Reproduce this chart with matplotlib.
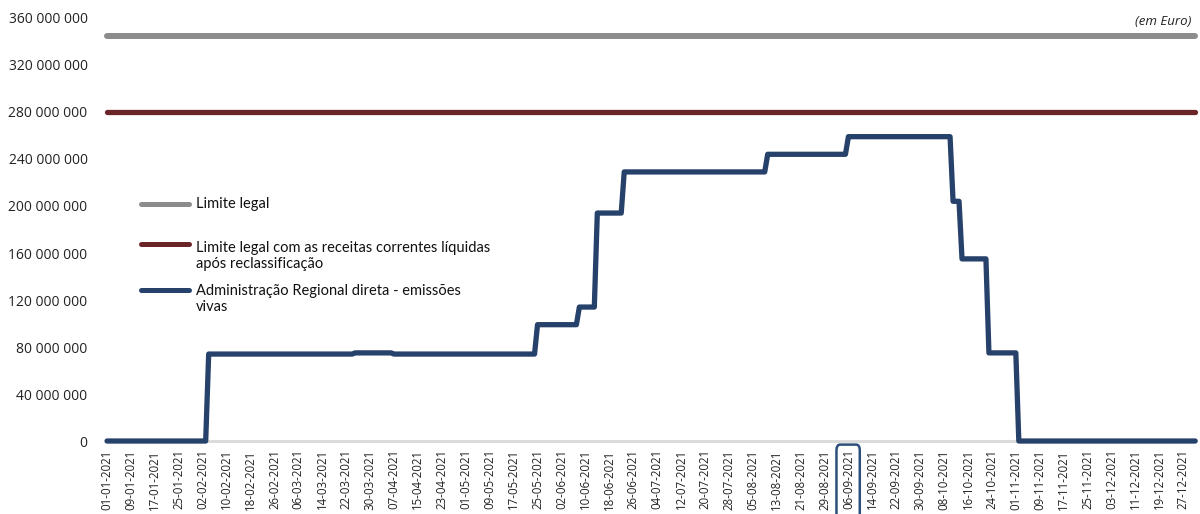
import numpy as np
import pandas as pd
import matplotlib.pyplot as plt
import matplotlib.dates as mdates
import matplotlib.transforms as mtransforms
from matplotlib.patches import FancyBboxPatch
from matplotlib.ticker import FuncFormatter

plt.rcParams['font.family'] = ['Open Sans', 'DejaVu Sans']

# Daily calendar for the year
days = pd.date_range('2021-01-01', '2021-12-31', freq='D')

# Legal limits (euro)
limite_legal = 345_000_000
limite_reclass = 280_000_000

# Outstanding regional issues: dates where the stock changes and the new value
change_dates = ['2021-01-01', '2021-02-04', '2021-03-25', '2021-04-07',
                '2021-05-25', '2021-06-08', '2021-06-14', '2021-06-23',
                '2021-08-10', '2021-09-06', '2021-10-11', '2021-10-14',
                '2021-10-23', '2021-11-02']
change_values = [0, 74_000_000, 75_000_000, 74_000_000,
                 99_000_000, 114_000_000, 194_000_000, 229_000_000,
                 244_000_000, 259_000_000, 204_000_000, 155_000_000,
                 75_000_000, 0]

labels = ['Limite legal',
          'Limite legal com as receitas correntes líquidas\napós reclassificação',
          'Administração Regional direta - emissões\nvivas']
colors = ['#8c8c8c', '#6b2427', '#26416a']

emissoes = (pd.Series(change_values, index=pd.to_datetime(change_dates))
            .reindex(days).ffill())

fig = plt.figure(figsize=(12, 5.14), dpi=100)
ax = fig.add_axes([0.0892, 0.142, 0.9068, 0.823])

lw = 3.8
ax.plot(days, np.full(len(days), limite_legal), color=colors[0], lw=4.3,
        solid_capstyle='round', clip_on=False)
ax.plot(days, np.full(len(days), limite_reclass), color=colors[1], lw=lw,
        solid_capstyle='round', clip_on=False)
ax.plot(days, emissoes.values, color=colors[2], lw=lw,
        solid_capstyle='round', solid_joinstyle='round', clip_on=False, zorder=3)

ax.set_xlim(days[0], days[-1])
ax.set_ylim(0, 360_000_000)
ax.set_yticks(np.arange(0, 360_000_001, 40_000_000))
ax.yaxis.set_major_formatter(FuncFormatter(lambda v, p: f'{int(v):,}'.replace(',', ' ')))

xticks = days[::8]
ax.set_xticks(xticks)
ax.set_xticklabels([d.strftime('%d-%m-%Y') for d in xticks], rotation=90, fontsize=8.3)
ax.tick_params(axis='x', length=0, pad=6, colors='#222222')
ax.tick_params(axis='y', length=0, pad=14, labelsize=10, colors='#222222')

for s in ['top', 'right', 'left']:
    ax.spines[s].set_visible(False)
ax.spines['bottom'].set_color('#d9d9d9')
ax.spines['bottom'].set_linewidth(2)

# Legend drawn by hand: (line y, text y) in axes fraction
leg_rows = [(0.560, 0.560), (0.466, 0.438), (0.357, 0.335)]
for (ly, ty), lab, c in zip(leg_rows, labels, colors):
    ax.plot([0.031, 0.075], [ly, ly], transform=ax.transAxes, color=c, lw=3.6,
            solid_capstyle='round', clip_on=False)
    ax.text(0.082, ty, lab, transform=ax.transAxes, fontsize=10.5, va='center',
            ha='left', linespacing=1.15, color='#111111', family=['Lato', 'DejaVu Sans'])

fig.text(0.993, 0.958, '(em Euro)', ha='right', va='center', style='italic',
         fontsize=9.5, color='#222222')

# Highlight box around one date label
trans = mtransforms.blended_transform_factory(ax.transData, fig.transFigure)
x0 = mdates.date2num(pd.Timestamp('2021-09-02'))
box = FancyBboxPatch((x0, -0.02), 7.8, 0.155, transform=trans,
                     boxstyle='round,pad=0,rounding_size=1.2',
                     fill=False, edgecolor='#2e4f7a', lw=1.8, clip_on=False,
                     mutation_aspect=0.01)
fig.add_artist(box)

fig.savefig('out.png', dpi=100)
